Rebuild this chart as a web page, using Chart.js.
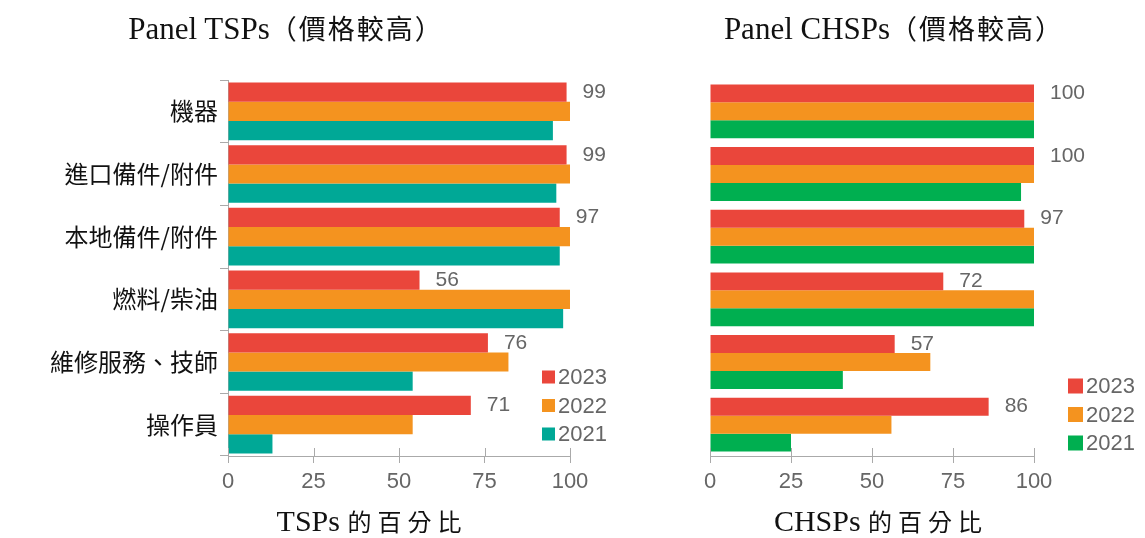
<!DOCTYPE html>
<html>
<head>
<meta charset="utf-8">
<script src="https://cdn.jsdelivr.net/npm/chart.js@4.4.0/dist/chart.umd.min.js"></script>
<style>
  body { margin: 0; background: #fff; }
  #wrap { position: relative; width: 1145px; height: 538px; overflow: hidden; }
  canvas { position: absolute; top: 0; }
  .ttl { position: absolute; text-align: center; width: 420px; color: #111; white-space: nowrap; }
  .lat { font-family: "Liberation Serif", serif; }
  .cjk { font-family: "Noto Sans CJK TC", sans-serif; }
</style>
</head>
<body>
<div id="wrap">
  <canvas id="tsp" width="640" height="538" style="left:0"></canvas>
  <canvas id="chsp" width="505" height="538" style="left:640px"></canvas>
  <div class="ttl" style="left:76px;top:10px;font-size:31px;line-height:36px">
    <span class="lat">Panel TSPs</span><span class="cjk" style="font-size:27px;letter-spacing:2px">（價格較高）</span>
  </div>
  <div class="ttl" style="left:684px;top:10px;font-size:31px;line-height:36px">
    <span class="lat">Panel CHSPs</span><span class="cjk" style="font-size:27px;letter-spacing:2px">（價格較高）</span>
  </div>
  <div class="ttl" style="left:162px;top:503px;font-size:30px;line-height:36px">
    <span class="lat">TSPs </span><span class="cjk" style="font-size:24px;letter-spacing:6px">的百分比</span>
  </div>
  <div class="ttl" style="left:671px;top:503px;font-size:30px;line-height:36px">
    <span class="lat">CHSPs </span><span class="cjk" style="font-size:24px;letter-spacing:6px">的百分比</span>
  </div>
</div>
<script>
const categories = ["機器", "進口備件/附件", "本地備件/附件", "燃料/柴油", "維修服務、技師", "操作員"];
const years = ["2023", "2022", "2021"];
const xTicks = [0, 25, 50, 75, 100];

const tsp2023 = [99, 99, 97, 56, 76, 71];
const tsp2022 = [100, 100, 100, 100, 82, 54];
const tsp2021 = [95, 96, 97, 98, 54, 13];

const chsp2023 = [100, 100, 97, 72, 57, 86];
const chsp2022 = [100, 100, 100, 100, 68, 56];
const chsp2021 = [100, 96, 100, 100, 41, 25];

const RED = "#EA463B";
const ORANGE = "#F4931F";
const TEAL = "#00A896";
const GREEN = "#00AF50";
const GREY = "#666666";

// value labels on the 2023 bars + a small legend inside the plot + ticks crossing the x axis
const extras = {
  id: "extras",
  afterDatasetsDraw(chart, args, opts) {
    const ctx = chart.ctx;
    const area = chart.chartArea;
    ctx.save();
    ctx.font = "21px 'Liberation Sans', sans-serif";
    ctx.fillStyle = GREY;
    ctx.textBaseline = "middle";
    ctx.textAlign = "left";
    chart.getDatasetMeta(0).data.forEach((bar, i) => {
      ctx.fillText(chart.data.datasets[0].data[i], bar.x + 16, bar.y);
    });

    // x axis ticks poke up into the plot a little
    const xs = chart.scales.x;
    ctx.strokeStyle = "#aaaaaa";
    ctx.lineWidth = 1;
    xTicks.forEach(v => {
      const px = Math.round(xs.getPixelForValue(v)) + 0.5;
      ctx.beginPath();
      ctx.moveTo(px, area.bottom - 8);
      ctx.lineTo(px, area.bottom);
      ctx.stroke();
    });

    // legend
    ctx.font = "22px 'Liberation Sans', sans-serif";
    chart.data.datasets.forEach((ds, i) => {
      const cy = area.bottom - opts.bottom + i * 28.5;
      ctx.fillStyle = ds.backgroundColor;
      ctx.fillRect(area.right + opts.dx, cy - opts.box / 2, opts.box, opts.box);
      ctx.fillStyle = GREY;
      ctx.fillText(ds.label, area.right + opts.dx + opts.box + 3, cy + 1);
    });
    ctx.restore();
  }
};

function makeChart(id, d23, d22, d21, color21, cfg) {
  return new Chart(document.getElementById(id), {
    type: "bar",
    data: {
      labels: categories,
      datasets: [
        { label: years[0], data: d23, backgroundColor: RED },
        { label: years[1], data: d22, backgroundColor: ORANGE },
        { label: years[2], data: d21, backgroundColor: color21 }
      ]
    },
    options: {
      indexAxis: "y",
      responsive: false,
      animation: false,
      layout: { padding: cfg.padding },
      datasets: { bar: { categoryPercentage: cfg.catPct, barPercentage: 1 } },
      plugins: {
        legend: { display: false },
        tooltip: { enabled: false },
        extras: cfg.legend
      },
      scales: {
        x: {
          min: 0,
          max: 100,
          afterBuildTicks: s => { s.ticks = xTicks.map(v => ({ value: v })); },
          afterFit: s => { s.height = 82; },
          grid: { drawOnChartArea: false, tickLength: 7, color: "#aaaaaa" },
          border: { color: "#aaaaaa" },
          ticks: { color: GREY, padding: 6, maxRotation: 0, autoSkip: false,
                   font: { family: "'Liberation Sans', sans-serif", size: 22 } }
        },
        y: {
          afterFit: s => { s.width = cfg.yWidth; },
          grid: { drawOnChartArea: false, tickLength: 8, color: cfg.showY ? "#aaaaaa" : "rgba(0,0,0,0)" },
          border: { color: cfg.showY ? "#aaaaaa" : "rgba(0,0,0,0)" },
          ticks: { display: cfg.showY, color: "#111", padding: 2,
                   font: { family: "'Noto Sans CJK TC', sans-serif", size: 24 } }
        }
      }
    },
    plugins: [extras]
  });
}

makeChart("tsp", tsp2023, tsp2022, tsp2021, TEAL, {
  padding: { top: 80, right: 70, left: 0, bottom: 0 },
  yWidth: 228,
  catPct: 0.92,
  showY: true,
  legend: { dx: -28, box: 13, bottom: 79 }
});

makeChart("chsp", chsp2023, chsp2022, chsp2021, GREEN, {
  padding: { top: 80, right: 111, left: 0, bottom: 0 },
  yWidth: 70,
  catPct: 0.86,
  showY: false,
  legend: { dx: 34, box: 15, bottom: 70 }
});
</script>
</body>
</html>
